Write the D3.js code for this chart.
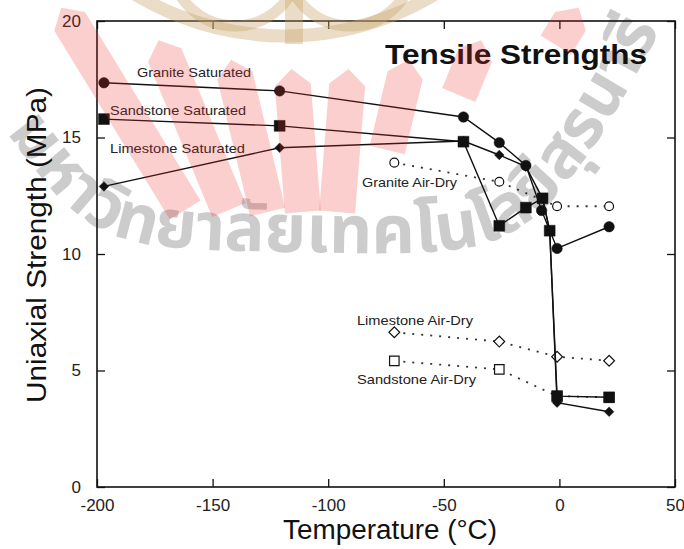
<!DOCTYPE html>
<html>
<head>
<meta charset="utf-8">
<script src="https://cdn.jsdelivr.net/npm/d3@7"></script>
<style>
  html, body { margin: 0; padding: 0; background: #fff; }
  svg { display: block; font-family: "Liberation Sans", Arial, Helvetica, sans-serif; }
</style>
</head>
<body>
<div id="chart"></div>
<script>
// saturated samples (temperature °C / strength MPa)
const graniteSatTemp = [-197, -121, -41.5, -26, -14.5, -7.7, -1, 21.5];
const graniteSatVal = [17.35, 17.0, 15.88, 14.78, 13.8, 11.87, 10.24, 11.17];
const sandstoneSatTemp = [-197, -121, -41.5, -26, -14.5, -7.3, -4.2, -1, 21.5];
const sandstoneSatVal = [15.79, 15.5, 14.82, 11.21, 11.99, 12.39, 11.0, 3.9, 3.85];
const limestoneSatTemp = [-197, -121, -41.5, -26, -14.5, -7.3, -4.2, -1, 21.5];
const limestoneSatVal = [12.9, 14.56, 14.85, 14.25, 13.75, 12.39, 11.0, 3.62, 3.23];

// air-dry samples
const airDryTemp = [-71.4, -26, -1, 21.5];
const graniteAirVal = [13.92, 13.1, 12.05, 12.05];
const limestoneAirVal = [6.64, 6.24, 5.59, 5.42];
const sandstoneAirVal = [5.41, 5.05, 3.9, 3.85];

// axes
const xTicks = [-200, -150, -100, -50, 0, 50];
const yTicks = [0, 5, 10, 15, 20];

const W = 684, H = 549;
const margin = { top: 21, right: 9, bottom: 62, left: 97 };
const width = W - margin.left - margin.right;
const height = H - margin.top - margin.bottom;

const root = d3.select("#chart").append("svg")
  .attr("width", W)
  .attr("height", H);

// 水印 (grey text sits under the chart)
const wmBack = root.append("g");
const wmPts = [[-40, 62], [20, 150], [75, 212], [130, 240], [300, 252], [475, 246], [530, 220], [578, 168], [622, 100], [665, 20]];
wmBack.append("path")
  .attr("id", "wmPath")
  .attr("fill", "none")
  .attr("d", d3.line().curve(d3.curveCatmullRom)(wmPts));

wmBack.append("text")
  .style("font-family", "'Noto Sans Thai', 'Noto Sans', 'DejaVu Sans', sans-serif")
  .style("font-size", "67px")
  .style("font-weight", "bold")
  .attr("fill", "#cccccc")
  .append("textPath")
  .attr("href", "#wmPath")
  .attr("startOffset", 84)
  .text("มหาวิทยาลัยเทคโนโลยีสุรนารี");

const svg = root.append("g")
  .attr("transform", `translate(${margin.left},${margin.top})`);

const x = d3.scaleLinear().domain([-200, 50]).range([0, width]);
const y = d3.scaleLinear().domain([0, 20]).range([height, 0]);

const zip = (ts, vs) => ts.map((t, i) => ({ t, v: vs[i] }));
const plain = d => String(d);

// 坐标轴 (ticks point inward)
const axisStyle = g => {
  g.select(".domain").remove();
  g.selectAll(".tick line").attr("stroke", "#111").attr("stroke-width", 1.3);
  g.selectAll(".tick text").attr("fill", "#222").style("font-size", "17px");
};

svg.append("g")
  .attr("transform", `translate(0,${height})`)
  .call(d3.axisBottom(x).tickValues(xTicks).tickFormat(plain).tickSizeInner(-8).tickSizeOuter(0).tickPadding(12))
  .call(axisStyle);

svg.append("g")
  .call(d3.axisTop(x).tickValues(xTicks).tickSizeInner(-8).tickSizeOuter(0).tickFormat(""))
  .call(axisStyle);

svg.append("g")
  .call(d3.axisLeft(y).tickValues(yTicks).tickFormat(plain).tickSizeInner(-8).tickSizeOuter(0).tickPadding(16))
  .call(axisStyle);

svg.append("g")
  .attr("transform", `translate(${width},0)`)
  .call(d3.axisRight(y).tickValues(yTicks).tickSizeInner(-8).tickSizeOuter(0).tickFormat(""))
  .call(axisStyle);

svg.append("rect")
  .attr("width", width)
  .attr("height", height)
  .attr("fill", "none")
  .attr("stroke", "#111")
  .attr("stroke-width", 1.6);

// axis titles
root.append("text")
  .attr("x", 390)
  .attr("y", 539)
  .attr("text-anchor", "middle")
  .attr("textLength", 214)
  .attr("lengthAdjust", "spacingAndGlyphs")
  .style("font-size", "27px")
  .attr("fill", "#111")
  .text("Temperature (°C)");

root.append("text")
  .attr("transform", "translate(46,245) rotate(-90)")
  .attr("text-anchor", "middle")
  .attr("textLength", 316)
  .attr("lengthAdjust", "spacingAndGlyphs")
  .style("font-size", "28px")
  .attr("fill", "#111")
  .text("Uniaxial Strength (MPa)");

root.append("text")
  .attr("x", 385)
  .attr("y", 64)
  .attr("textLength", 262)
  .attr("lengthAdjust", "spacingAndGlyphs")
  .style("font-size", "28px")
  .style("font-weight", "bold")
  .attr("fill", "#111")
  .text("Tensile Strengths");

const line = d3.line().x(d => x(d.t)).y(d => y(d.v));

// 虚线 air-dry
const drawDotted = data => {
  svg.append("path")
    .datum(data)
    .attr("fill", "none")
    .attr("stroke", "#333")
    .attr("stroke-width", 1.8)
    .attr("stroke-dasharray", "2,7")
    .attr("d", line);
};

const drawSolid = data => {
  svg.append("path")
    .datum(data)
    .attr("fill", "none")
    .attr("stroke", "#111")
    .attr("stroke-width", 1.4)
    .attr("d", line);
};

const drawMarks = (data, type, size, filled, rotate) => {
  svg.selectAll(null)
    .data(data)
    .enter().append("path")
    .attr("d", d3.symbol().type(type).size(size))
    .attr("transform", d => `translate(${x(d.t)},${y(d.v)})` + (rotate ? " rotate(45)" : ""))
    .attr("fill", filled ? "#111" : "#fff")
    .attr("stroke", "#111")
    .attr("stroke-width", filled ? 0.5 : 1.2);
};

const graniteAir = zip(airDryTemp, graniteAirVal);
const limestoneAir = zip(airDryTemp, limestoneAirVal);
const sandstoneAir = zip(airDryTemp, sandstoneAirVal);
const graniteSat = zip(graniteSatTemp, graniteSatVal);
const sandstoneSat = zip(sandstoneSatTemp, sandstoneSatVal);
const limestoneSat = zip(limestoneSatTemp, limestoneSatVal);

drawDotted(graniteAir);
drawDotted(limestoneAir);
drawDotted(sandstoneAir);
drawMarks(graniteAir, d3.symbolCircle, 62, false, false);
drawMarks(limestoneAir, d3.symbolSquare, 58, false, true);
drawMarks(sandstoneAir, d3.symbolSquare, 90, false, false);

drawSolid(limestoneSat);
drawSolid(sandstoneSat);
drawSolid(graniteSat);
drawMarks(limestoneSat, d3.symbolSquare, 46, true, true);
drawMarks(sandstoneSat, d3.symbolSquare, 118, true, false);
drawMarks(graniteSat, d3.symbolCircle, 86, true, false);

// series labels
const labels = [
  { text: "Granite Saturated", x: 137, y: 77, len: 114 },
  { text: "Sandstone Saturated", x: 110, y: 115, len: 136 },
  { text: "Limestone Saturated", x: 110, y: 152.5, len: 135 },
  { text: "Granite Air-Dry", x: 362, y: 187, len: 95 },
  { text: "Limestone Air-Dry", x: 357, y: 325, len: 116 },
  { text: "Sandstone Air-Dry", x: 357, y: 384, len: 119 }
];
root.selectAll(".lbl")
  .data(labels)
  .enter().append("text")
  .attr("class", "lbl")
  .attr("x", d => d.x)
  .attr("y", d => d.y)
  .attr("textLength", d => d.len)
  .attr("lengthAdjust", "spacingAndGlyphs")
  .style("font-size", "13px")
  .attr("fill", "#222")
  .text(d => d.text);

// 水印 logo (tinted on top of the chart)
const wm = root.append("g").style("pointer-events", "none");

// beige rings at top centre
const beige = "#c9a46a";
wm.append("circle").attr("cx", 285).attr("cy", -254).attr("r", 290)
  .attr("fill", "none").attr("stroke", beige).attr("stroke-width", 13).attr("opacity", 0.38);
[[235, -38], [350, -38]].forEach(([ux, uy]) => {
  wm.append("circle").attr("cx", ux).attr("cy", uy).attr("r", 64)
    .attr("fill", "none").attr("stroke", beige).attr("stroke-width", 11).attr("opacity", 0.38);
});
wm.append("rect").attr("x", 285).attr("y", 0).attr("width", 18).attr("height", 44)
  .attr("fill", beige).attr("opacity", 0.38);

// red rays: [angle from vertical, y of the inner end]
const rays = [[-31.5, 210], [-22.5, 210], [-13.5, 212], [-4.5, 212], [4.5, 212], [13.5, 150], [22.5, 95], [31.5, 45]];
const cx = 320, cy = 430;
rays.forEach(([a, yb]) => {
  const r = a * Math.PI / 180;
  const dx = Math.sin(r), dy = -Math.cos(r);
  const px = Math.cos(r), py = Math.sin(r);
  const c = Math.cos(r);
  const r1 = (cy - yb) / c, r3 = 360 / (c * c), r2 = r3 - 16, hw = 18;
  const pts = [
    [cx + dx * r1 - px * hw, cy + dy * r1 - py * hw],
    [cx + dx * r2 - px * hw, cy + dy * r2 - py * hw],
    [cx + dx * r3, cy + dy * r3],
    [cx + dx * r2 + px * hw, cy + dy * r2 + py * hw],
    [cx + dx * r1 + px * hw, cy + dy * r1 + py * hw]
  ];
  wm.append("polygon")
    .attr("points", pts.map(p => p.join(",")).join(" "))
    .attr("fill", "#e8302c")
    .attr("opacity", 0.23);
});
</script>
</body>
</html>
